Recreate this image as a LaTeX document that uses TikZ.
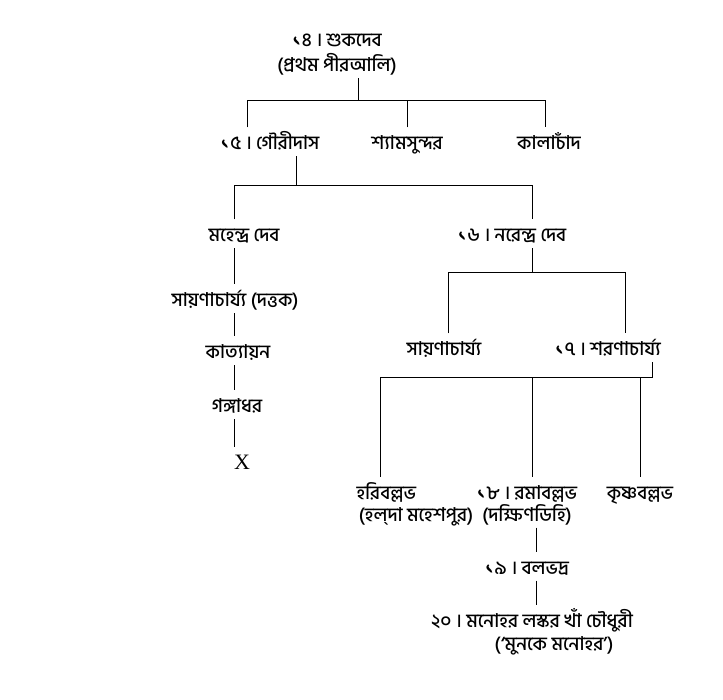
\documentclass[tikz,border=0pt]{standalone}
\usepackage{fontspec}
\setmainfont[Script=Bengali,UprightFont=* Medium]{Hind Siliguri}
\newfontfamily\latinfont{Liberation Serif}

\begin{document}
\begin{tikzpicture}[x=1pt,y=-1pt,line width=1pt]
        \tikzstyle{every node}+=[inner xsep=0pt]
        \tikzstyle{person}=[anchor=base,inner ysep=4pt,text height=18pt,text depth=2pt,font=\fontsize{19}{22}\selectfont]
        \useasboundingbox (0,0) rectangle (723,700);
        \node [person] (suk) at (337,47) {১৪ । শুকদেব};
        \node [person] (suk2) at (337,72) {(প্রথম পীরআলি)};
        \node [person] (gauri) at (270,150) {১৫ । গৌরীদাস};
        \node [person] (shyam) at (407,150) {শ্যামসুন্দর};
        \node [person] (kala) at (549,150) {কালাচাঁদ};
        \node [person] (mahendra) at (244,242) {মহেন্দ্র দেব};
        \node [person] (narendra) at (512,242) {১৬ । নরেন্দ্র দেব};
        \node [person] (sayan) at (235,307) {সায়ণাচার্য্য (দত্তক)};
        \node [person] (katya) at (238,359) {কাত্যায়ন};
        \node [person] (ganga) at (237,413) {গঙ্গাধর};
        \node [person,font=\latinfont\fontsize{22}{24}\selectfont] (xnode) at (242,469) {X};
        \node [person] (sayan2) at (444,356) {সায়ণাচার্য্য};
        \node [person] (sharan) at (608,356) {১৭ । শরণাচার্য্য};
        \node [person,anchor=base west] (hari) at (356,499) {হরিবল্লভ};
        \node [person] (hari2) at (416,521) {(হল্^^^^200cদা মহেশপুর)};
        \node [person] (rama) at (527,499) {১৮ । রমাবল্লভ};
        \node [person] (rama2) at (527,521) {(দক্ষিণডিহি)};
        \node [person] (krishna) at (640,499) {কৃষ্ণবল্লভ};
        \node [person] (bala) at (527,574) {১৯ । বলভদ্র};
        \node [person] (mano) at (532,627) {২০ । মনোহর লস্কর খাঁ চৌধুরী};
        \node [person] (mano2) at (554,650) {(‘মুনকে মনোহর’)};
        \coordinate (j14) at (358,101);
        \coordinate (b14l) at (247,101);
        \coordinate (b14r) at (545,101);
        \draw (suk2.south -| j14) -- (j14);
        \draw (gauri.north -| b14l) -- (b14l) -- (b14r) -- (kala.north -| b14r);
        \draw (shyam.north) -- (shyam.north |- j14);
        \coordinate (j15) at (296,186);
        \coordinate (b15l) at (234,186);
        \coordinate (b15r) at (532,186);
        \draw (gauri.south -| j15) -- (j15);
        \draw (mahendra.north -| b15l) -- (b15l) -- (b15r) -- (narendra.north -| b15r);
        \draw (mahendra.south -| b15l) -- (sayan.north -| b15l);
        \draw (sayan.south -| b15l) -- (katya.north -| b15l);
        \draw (katya.south -| b15l) -- (ganga.north -| b15l);
        \draw (ganga.south -| b15l) -- (xnode.north -| b15l);
        \coordinate (j16) at (532,273);
        \coordinate (b16l) at (448,273);
        \coordinate (b16r) at (625,273);
        \draw (narendra.south -| j16) -- (j16);
        \draw (sayan2.north -| b16l) -- (b16l) -- (b16r) -- (sharan.north -| b16r);
        \coordinate (b17l) at (380,378);
        \coordinate (b17r) at (652,378);
        \draw (sharan.south -| b17r) -- (b17r) -- (b17l) -- (hari.north -| b17l);
        \draw (rama.north -| j16) -- (j16 |- b17l);
        \draw (krishna.north) -- (krishna.north |- b17l);
        \coordinate (c18) at (536,550);
        \draw (rama2.south -| c18) -- (bala.north -| c18);
        \draw (bala.south -| c18) -- (mano.north -| c18);
\end{tikzpicture}
\end{document}
